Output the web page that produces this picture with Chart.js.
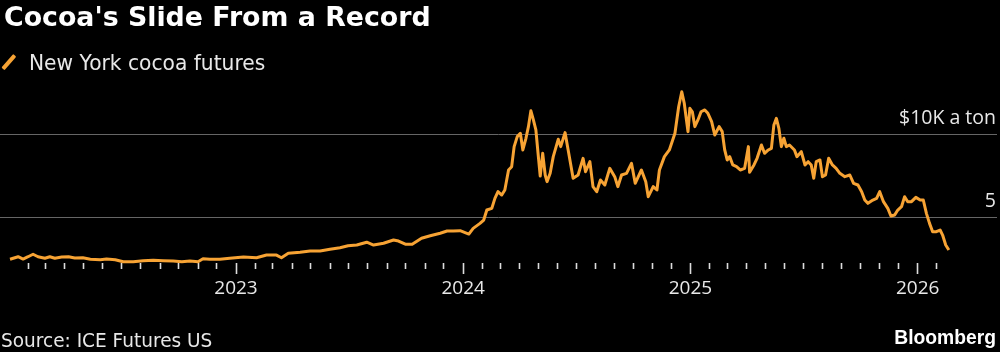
<!DOCTYPE html>
<html>
<head>
<meta charset="utf-8">
<script src="https://cdn.jsdelivr.net/npm/chart.js@4.4.1/dist/chart.umd.min.js"></script>
<style>
  html, body { margin: 0; padding: 0; background: #000; }
  #wrap { position: relative; width: 1000px; height: 352px; background: #000; overflow: hidden; }
  #graph { position: absolute; left: 0; top: 0; }
  .txt { position: absolute; white-space: nowrap; color: #e8e8e8; }
  .title { left: 4px; top: 4px; font: 700 26.8px/26.8px 'DejaVu Sans'; color: #fff; }
  .key { left: 29px; top: 52px; font: 400 21.5px/21.5px 'DejaVu Sans'; transform: scaleX(0.94); transform-origin: 0 0; }
  .swatch { position: absolute; left: 7.4px; top: 53px; width: 3.5px; height: 17.7px; background: #f7a334; border-radius: 1px; transform: rotate(41deg); }
  .source { left: 1px; top: 330px; font: 400 20px/20px 'DejaVu Sans'; transform: scaleX(0.925); transform-origin: 0 0; }
  .brand { right: 4px; top: 328px; font: 700 19.3px/19.3px 'Liberation Sans'; color: #fff; }
</style>
</head>
<body>
<div id="wrap">
  <canvas id="graph" width="1000" height="352"></canvas>
  <div class="txt title">Cocoa's Slide From a Record</div>
  <div class="swatch"></div>
  <div class="txt key">New York cocoa futures</div>
  <div class="txt source">Source: ICE Futures US</div>
  <div class="txt brand">Bloomberg</div>
</div>
<script>
// New York cocoa futures, $ per ton
const dates = [
  '2022-01-03','2022-01-16','2022-01-24','2022-02-01','2022-02-09','2022-02-17','2022-02-28','2022-03-08','2022-03-16','2022-03-27',
  '2022-04-07','2022-04-17','2022-04-30','2022-05-12','2022-05-28','2022-06-07','2022-06-21','2022-07-04','2022-07-20','2022-08-05',
  '2022-08-21','2022-09-06','2022-09-22','2022-10-06','2022-10-19','2022-11-01','2022-11-09','2022-11-20','2022-12-06','2022-12-22',
  '2023-01-13','2023-02-03','2023-02-19','2023-03-07','2023-03-15','2023-03-26','2023-04-14','2023-04-30','2023-05-16','2023-06-01',
  '2023-06-17','2023-06-30','2023-07-14','2023-07-30','2023-08-10','2023-08-26','2023-09-11','2023-09-19','2023-09-30','2023-10-11',
  '2023-10-26','2023-11-09','2023-11-25','2023-12-06','2023-12-16','2023-12-27',
  '2024-01-10','2024-01-17','2024-01-28','2024-02-03','2024-02-08','2024-02-16','2024-02-21','2024-02-26','2024-03-03','2024-03-08',
  '2024-03-14','2024-03-19','2024-03-23','2024-03-28','2024-04-02','2024-04-06','2024-04-11','2024-04-15','2024-04-19','2024-04-23',
  '2024-04-27','2024-05-01','2024-05-04','2024-05-08','2024-05-12','2024-05-15','2024-05-20','2024-05-25','2024-06-02','2024-06-06',
  '2024-06-13','2024-06-18','2024-06-26','2024-07-04','2024-07-12','2024-07-16','2024-07-23','2024-07-28','2024-08-03','2024-08-09',
  '2024-08-16','2024-08-24','2024-09-01','2024-09-06','2024-09-12','2024-09-20','2024-09-28','2024-10-04','2024-10-14','2024-10-21',
  '2024-10-25','2024-11-02','2024-11-08','2024-11-12','2024-11-20','2024-11-28','2024-12-07','2024-12-13','2024-12-18','2024-12-22',
  '2024-12-28','2024-12-31',
  '2025-01-04','2025-01-08','2025-01-13','2025-01-18','2025-01-24','2025-01-29','2025-02-04','2025-02-09','2025-02-16','2025-02-21',
  '2025-02-25','2025-03-01','2025-03-05','2025-03-10','2025-03-16','2025-03-22','2025-03-29','2025-04-04','2025-04-06','2025-04-13',
  '2025-04-18','2025-04-25','2025-04-30','2025-05-06','2025-05-11','2025-05-15','2025-05-19','2025-05-23','2025-05-27','2025-05-31',
  '2025-06-04','2025-06-09','2025-06-17','2025-06-21','2025-06-28','2025-07-04','2025-07-09','2025-07-14','2025-07-18','2025-07-22',
  '2025-07-28','2025-08-01','2025-08-06','2025-08-11','2025-08-17','2025-08-23','2025-08-29','2025-09-06','2025-09-14','2025-09-20',
  '2025-09-27','2025-10-03','2025-10-08','2025-10-13','2025-10-21','2025-10-27','2025-11-01','2025-11-07','2025-11-14','2025-11-19',
  '2025-11-25','2025-11-30','2025-12-06','2025-12-11','2025-12-16','2025-12-22','2025-12-29',
  '2026-01-05','2026-01-10','2026-01-15','2026-01-20','2026-01-25','2026-01-31','2026-02-06','2026-02-10','2026-02-15','2026-02-20'
];
const prices = [
  2510, 2660, 2520, 2660, 2810, 2660, 2570, 2660, 2570, 2640,
  2660, 2580, 2600, 2510, 2480, 2520, 2480, 2360, 2360, 2420,
  2450, 2420, 2400, 2360, 2400, 2360, 2540, 2510, 2510, 2570,
  2640, 2600, 2760, 2760, 2600, 2870, 2930, 3000, 3000, 3110,
  3200, 3320, 3360, 3530, 3360, 3470, 3660, 3600, 3410, 3410,
  3770, 3920, 4070, 4200, 4200, 4220,
  4020, 4360, 4660, 4860, 5460, 5560, 6160, 6560, 6360, 6660,
  7860, 8060, 9260, 9860, 10060, 9060, 9760, 10460, 11410, 10860,
  10260, 8660, 7500, 8860, 7560, 7160, 7660, 8660, 9700, 9260,
  10100, 9060, 7360, 7560, 8560, 7760, 8360, 6860, 6560, 7260,
  6960, 7960, 7460, 6860, 7560, 7660, 8260, 7060, 7860, 7160,
  6260, 6860, 6660, 7860, 8660, 9060, 10060, 11650, 12550, 11860,
  10160, 11560,
  11350, 10460, 10860, 11350, 11460, 11260, 10760, 9960, 10460, 10160,
  9060, 8460, 8660, 8160, 8060, 7860, 7960, 9260, 7720, 8160,
  8560, 9360, 8860, 9060, 9160, 10560, 10960, 10360, 9260, 9760,
  9260, 9360, 9060, 8660, 8960, 8160, 8360, 8160, 7360, 8360,
  8460, 7460, 7560, 8560, 8160, 7960, 7660, 7460, 7560, 7060,
  6960, 6560, 6060, 5860, 6060, 6160, 6560, 5960, 5560, 5100,
  5160, 5460, 5660, 6260, 5960, 5960, 6220,
  6060, 6060, 5260, 4660, 4160, 4160, 4260, 3960, 3360, 3060
];

// y grid lines and their labels
const gridValues = [5000, 10000];
const gridLabels = ['5', '$10K a ton'];

// first and last monthly tick on the time axis
const firstTick = [2022, 2];
const lastTick = [2026, 2];

const orange = '#f7a334';

function yearFrac(s) {
  const [y, m, d] = s.split('-').map(Number);
  const start = Date.UTC(y, 0, 1);
  const end = Date.UTC(y + 1, 0, 1);
  return y + (Date.UTC(y, m - 1, d) - start) / (end - start);
}

const monthTicks = [];
for (let y = firstTick[0]; y <= lastTick[0]; y++) {
  for (let m = 1; m <= 12; m++) {
    if (y === firstTick[0] && m < firstTick[1]) continue;
    if (y === lastTick[0] && m > lastTick[1]) continue;
    const mm = String(m).padStart(2, '0');
    monthTicks.push({ value: yearFrac(y + '-' + mm + '-01'), major: m === 1, year: y });
  }
}

const points = dates.map((d, i) => ({ x: yearFrac(d), y: prices[i] }));

const canvas = document.querySelector('#graph').getContext('2d');

new Chart(canvas, {
  type: 'line',
  data: {
    datasets: [{
      data: points,
      borderColor: orange,
      borderWidth: 3,
      borderJoinStyle: 'round',
      pointRadius: 0,
      tension: 0,
      clip: false
    }]
  },
  options: {
    responsive: false,
    animation: false,
    devicePixelRatio: 1,
    layout: { padding: { top: 80, left: 0, right: 0, bottom: 0 } },
    plugins: {
      legend: { display: false },
      tooltip: { enabled: false }
    },
    scales: {
      x: {
        type: 'linear',
        min: 2021.9614,
        max: 2026.349,
        afterBuildTicks: axis => { axis.ticks = monthTicks.map(t => ({ ...t })); },
        afterFit: axis => { axis.height = 89; },
        border: { display: false },
        grid: {
          drawOnChartArea: false,
          drawTicks: true,
          tickLength: 11,
          tickColor: '#dcdcdc',
          tickWidth: 1.6,
          tickBorderDash: ctx => (ctx.tick && ctx.tick.major) ? [] : [6, 40]
        },
        ticks: {
          autoSkip: false,
          maxRotation: 0,
          padding: 3,
          color: '#e8e8e8',
          font: { family: 'Open Sans', size: 19 },
          callback: (v, i, ticks) => ticks[i].major ? String(ticks[i].year) : ''
        }
      },
      y: {
        position: 'right',
        min: 2284,
        max: 13255,
        afterBuildTicks: axis => { axis.ticks = gridValues.map(v => ({ value: v })); },
        afterFit: axis => { axis.width = 3; },
        border: { display: false },
        grid: { color: '#666', lineWidth: 1, drawTicks: false },
        ticks: {
          mirror: true,
          padding: -1,
          labelOffset: -16,
          color: '#e8e8e8',
          font: { family: 'Open Sans', size: 19.5 },
          callback: v => gridLabels[gridValues.indexOf(v)]
        }
      }
    }
  }
});
</script>
</body>
</html>
